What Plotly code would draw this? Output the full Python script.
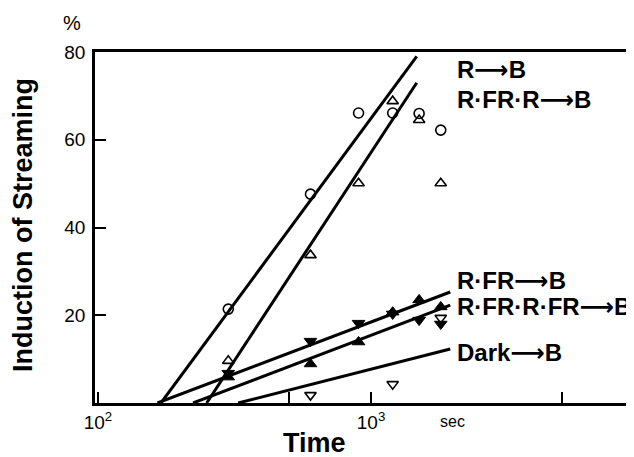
import plotly.graph_objects as go

# ---- data ----
time_s = [300, 600, 900, 1200, 1500, 1800]
r_b = [21.4, 47.6, 66.1, 66.1, 66.0, 62.2]              # open circles
r_fr_r_b = [9.6, 33.7, 50.1, 68.8, 64.5, 50.1]          # open triangles up
r_fr_b = [6.8, 14.1, 18.2, 20.3, 18.9, 18.0]            # filled triangles down
r_fr_r_fr_b = [5.9, 8.9, 13.9, 20.7, 23.5, 21.9]        # filled triangles up
dark_time = [600, 1200, 1800]
dark_b = [1.8, 4.3, 19.4]                               # open triangles down

# fitted lines: ([start time, end time], [start %, end %])
fit_r_b = ([170, 1470], [0, 79])
fit_r_fr_r_b = ([250, 1470], [0, 73])
fit_r_fr_b = ([165, 1950], [0, 25.3])
fit_r_fr_r_fr_b = ([223, 1950], [0, 22.3])
fit_dark_b = ([326, 1950], [0, 12.3])

series_labels = [["R", "B"], ["R·FR·R", "B"], ["R·FR", "B"], ["R·FR·R·FR", "B"], ["Dark", "B"]]
label_y = [75.9, 69.0, 27.8, 21.9, 11.4]

x_tickvals = [100, 500, 1000, 5000]
x_ticktext = ["10<sup>2</sup>", "", "10<sup>3</sup>", ""]
y_tickvals = [20, 40, 60, 80]

fig = go.Figure()

for xs, ys in [fit_r_b, fit_r_fr_r_b, fit_r_fr_b, fit_r_fr_r_fr_b, fit_dark_b]:
    fig.add_trace(go.Scatter(x=xs, y=ys, mode="lines",
                             line=dict(color="black", width=3), showlegend=False))

mk = dict(size=10, line=dict(color="black", width=1.6))
fig.add_trace(go.Scatter(x=time_s, y=r_b, mode="markers",
                         marker=dict(symbol="circle-open", color="black", **mk)))
fig.add_trace(go.Scatter(x=time_s, y=r_fr_r_b, mode="markers",
                         marker=dict(symbol="triangle-up-open", color="black", **mk)))
fig.add_trace(go.Scatter(x=time_s, y=r_fr_b, mode="markers",
                         marker=dict(symbol="triangle-down", color="black", size=11,
                                     line=dict(color="black", width=1))))
fig.add_trace(go.Scatter(x=time_s, y=r_fr_r_fr_b, mode="markers",
                         marker=dict(symbol="triangle-up", color="black", size=11,
                                     line=dict(color="black", width=1))))
fig.add_trace(go.Scatter(x=dark_time, y=dark_b, mode="markers",
                         marker=dict(symbol="triangle-down-open", color="black", **mk)))

font_fam = "Liberation Sans, Arial, sans-serif"
arrow = '<span style="font-family:DejaVu Sans">⟶</span>'

PL, PT = 95, 52          # plot left/top in window px
PW, PH = 539, 351        # plot width/height


def px(xw):
    return (xw - PL) / PW


def py(yw):
    return (PT + PH - yw) / PH


for (a, b), yv in zip(series_labels, label_y):
    fig.add_annotation(x=px(455), xref="paper", y=yv, yref="y",
                       text="<b>" + a + arrow + b + "</b>",
                       showarrow=False, xanchor="left", yanchor="middle",
                       font=dict(family=font_fam, size=24, color="black"))

fig.add_annotation(x=px(452), xref="paper", y=py(421), yref="paper", text="sec",
                   showarrow=False, xanchor="center", yanchor="middle",
                   font=dict(family=font_fam, size=16, color="black"))
fig.add_annotation(x=px(72), xref="paper", y=py(23), yref="paper", text="%",
                   showarrow=False, xanchor="center", yanchor="middle",
                   font=dict(family=font_fam, size=20, color="black"))
fig.add_annotation(x=px(314), xref="paper", y=py(443), yref="paper", text="<b>Time</b>",
                   showarrow=False, xanchor="center", yanchor="middle",
                   font=dict(family=font_fam, size=27, color="black"))
fig.add_annotation(x=px(23), xref="paper", y=py(225), yref="paper",
                   text="<b>Induction of Streaming</b>", textangle=-90,
                   showarrow=False, xanchor="center", yanchor="middle",
                   font=dict(family=font_fam, size=27, color="black"))

fig.update_xaxes(type="log", range=[1.989, 3.963],
                 tickvals=x_tickvals, ticktext=x_ticktext,
                 ticks="inside", ticklen=11, tickwidth=1.5, tickcolor="black",
                 showline=True, linecolor="black", linewidth=2.5, mirror=True,
                 showgrid=False, zeroline=False,
                 tickfont=dict(family=font_fam, size=19, color="black"))
fig.update_yaxes(range=[0, 80], tickvals=y_tickvals,
                 ticks="inside", ticklen=11, tickwidth=1.5, tickcolor="black",
                 showline=True, linecolor="black", linewidth=2.5,
                 showgrid=False, zeroline=False, ticklabelstandoff=3,
                 tickfont=dict(family=font_fam, size=19, color="black"))

# body margin of the page is 8px; shrink the figure so the plot lands where it should
OFF = 8
fig.update_layout(width=634 - OFF, height=457 - OFF,
                  plot_bgcolor="white", paper_bgcolor="white",
                  margin=dict(l=PL - OFF, r=0, t=PT - OFF, b=457 - (PT + PH)),
                  showlegend=False)

fig.write_html("out.html")
